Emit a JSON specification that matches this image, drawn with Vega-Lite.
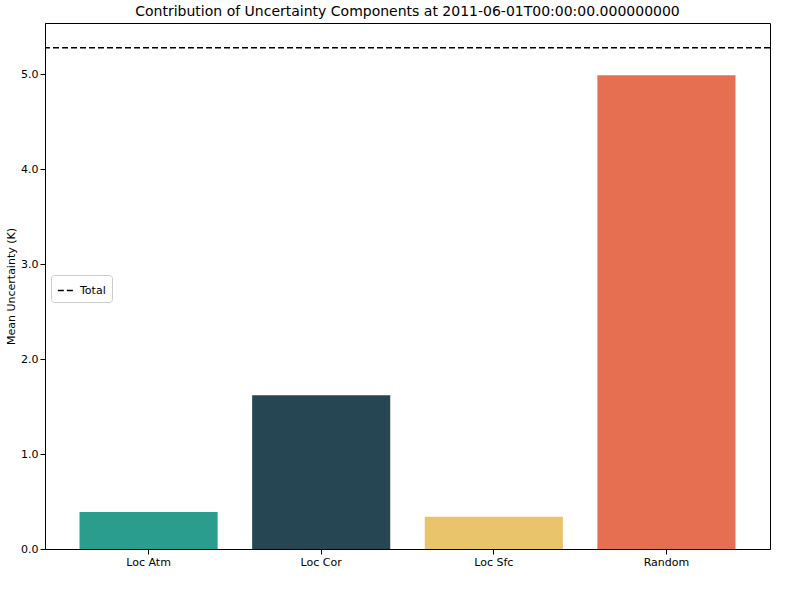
{
  "$schema": "https://vega.github.io/schema/vega-lite/v6.json",
  "width": 725,
  "height": 526,
  "title": {"text": "Contribution of Uncertainty Components at 2011-06-01T00:00:00.000000000", "fontSize": 14, "fontWeight": "normal", "font": "DejaVu Sans", "color": "black"},
  "datasets": {
    "bars": [
      {"component": "Loc Atm", "value": 0.39, "color": "#2a9d8f"},
      {"component": "Loc Cor", "value": 1.62, "color": "#264653"},
      {"component": "Loc Sfc", "value": 0.34, "color": "#e9c46a"},
      {"component": "Random", "value": 4.99, "color": "#e76f51"}
    ],
    "total": [{"label": "Total", "value": 5.28}]
  },
  "layer": [
    {
      "data": {"name": "bars"},
      "mark": "bar",
      "encoding": {
        "x": {"field": "component", "type": "nominal", "title": null, "scale": {"paddingInner": 0.2, "paddingOuter": 0.2}, "axis": {"labelAngle": 0}},
        "y": {"field": "value", "type": "quantitative", "title": "Mean Uncertainty (K)", "scale": {"domain": [0, 5.54], "nice": false}, "axis": {"values": [0, 1, 2, 3, 4, 5], "grid": false}},
        "color": {"field": "color", "type": "nominal", "scale": null}
      }
    },
    {
      "data": {"name": "total"},
      "mark": {"type": "rule", "strokeDash": [6, 3], "strokeWidth": 1.5},
      "encoding": {
        "y": {"field": "value", "type": "quantitative"},
        "stroke": {"field": "label", "type": "nominal", "scale": {"range": ["black"]}, "legend": {"title": null, "orient": "none", "legendX": 6, "legendY": 252, "symbolType": "stroke", "symbolStrokeWidth": 1.5, "symbolDash": [6, 3], "symbolSize": 300, "labelFontSize": 11, "strokeColor": "#cccccc", "fillColor": "white", "padding": 6, "cornerRadius": 3}}
      }
    }
  ],
  "config": {
    "font": "DejaVu Sans",
    "view": {"stroke": "black", "strokeWidth": 1},
    "axis": {"domainColor": "black", "tickColor": "black", "labelColor": "black", "titleColor": "black", "labelFontSize": 11, "titleFontSize": 11, "titleFontWeight": "normal"}
  }
}
